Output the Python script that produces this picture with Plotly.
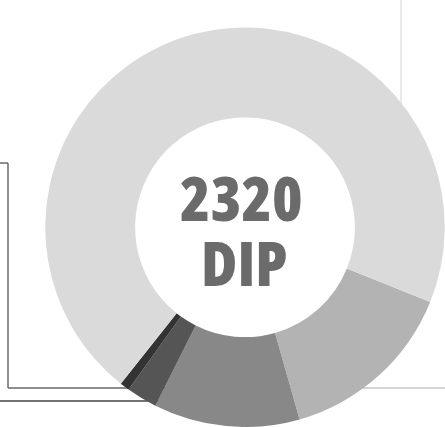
import plotly.graph_objects as go

# Donut data (sum = 2320)
labels = ["Group A", "Group B", "Group C", "Group D", "Group E"]
values = [336, 274, 58, 18, 1634]
colors = ["#b3b3b3", "#888888", "#555555", "#333333", "#dadada"]

total_text = "2320"
unit_text = "DIP"

W, H = 445, 427


def px(x):
    return x / W


def py(y):
    return 1 - y / H


fig = go.Figure()
fig.add_trace(go.Pie(
    labels=labels,
    values=values,
    hole=0.55,
    sort=False,
    direction="clockwise",
    rotation=112,
    marker=dict(colors=colors, line=dict(width=0)),
    textinfo="none",
    hoverinfo="label+value",
    showlegend=False,
    domain=dict(x=[45 / W, 1], y=[0, 1 - 27.5 / H]),
))

line_dark = "#6a6a6a"
shapes = [
    # left bracket frame
    dict(type="line", xref="paper", yref="paper", x0=px(0), y0=py(163), x1=px(8), y1=py(163),
         line=dict(color=line_dark, width=1.5), layer="below"),
    dict(type="line", xref="paper", yref="paper", x0=px(8), y0=py(163), x1=px(8), y1=py(388),
         line=dict(color=line_dark, width=1.5), layer="below"),
    dict(type="line", xref="paper", yref="paper", x0=px(8), y0=py(388), x1=px(200), y1=py(388),
         line=dict(color=line_dark, width=1.5), layer="below"),
    dict(type="line", xref="paper", yref="paper", x0=px(0), y0=py(401), x1=px(200), y1=py(401),
         line=dict(color="#444444", width=1.5), layer="below"),
    # right light frame
    dict(type="line", xref="paper", yref="paper", x0=px(401), y0=py(0), x1=px(401), y1=py(250),
         line=dict(color="#e2e2e2", width=1.5), layer="below"),
    dict(type="line", xref="paper", yref="paper", x0=px(300), y0=py(388), x1=px(445), y1=py(388),
         line=dict(color="#c6c6c6", width=1.5), layer="below"),
]

font = dict(family="Open Sans", size=62, color="#6b6b6b", weight=800)
annotations = [
    dict(text=f'<span style="font-stretch:75%">{total_text}</span>', x=px(241), y=py(197),
         xref="paper", yref="paper", showarrow=False, xanchor="center", yanchor="middle", font=font),
    dict(text=f'<span style="font-stretch:75%">{unit_text}</span>', x=px(244), y=py(262),
         xref="paper", yref="paper", showarrow=False, xanchor="center", yanchor="middle", font=font),
]

fig.update_layout(
    width=W, height=H,
    margin=dict(l=0, r=0, t=0, b=0),
    paper_bgcolor="white",
    plot_bgcolor="white",
    shapes=shapes,
    annotations=annotations,
)

fig.write_html("out.html")
